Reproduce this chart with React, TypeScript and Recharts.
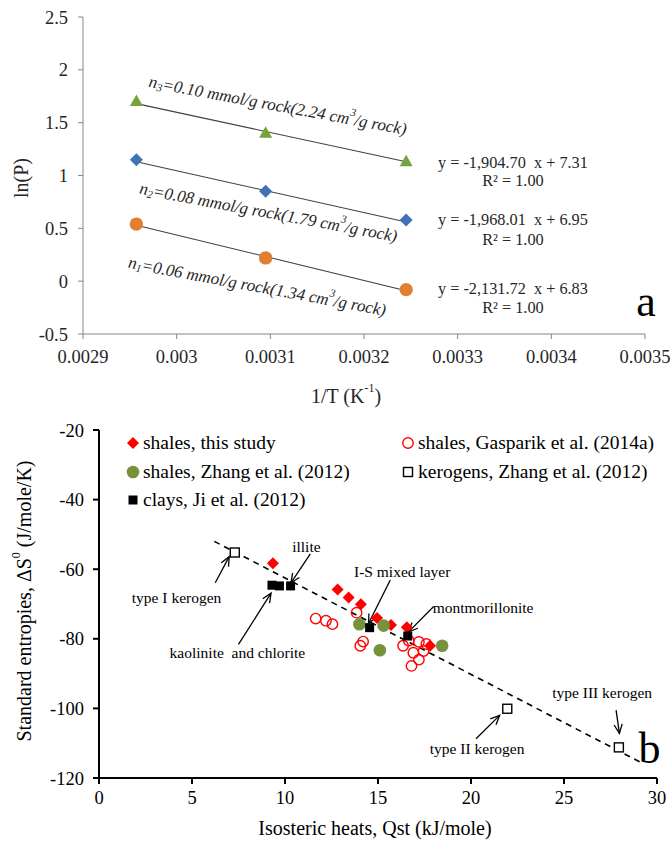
import React from "react";
import {
  ComposedChart,
  Scatter,
  Line,
  XAxis,
  YAxis,
  ReferenceDot,
  ReferenceLine,
  Legend,
} from "recharts";

const SERIF = '"Liberation Serif", "Times New Roman", serif';

// ---------- panel a: ln(P) vs 1/T ----------
const invT = [0.002957, 0.003095, 0.003245];
const lnPn3 = [1.7, 1.4, 1.13];
const lnPn2 = [1.15, 0.85, 0.58];
const lnPn1 = [0.54, 0.22, -0.08];

// fitted lines (end points)
const fitInvT = [0.002957, 0.003245];
const fitN3 = [1.68, 1.13];
const fitN2 = [1.13, 0.56];
const fitN1 = [0.53, -0.09];

const xTicksA = [0.0029, 0.003, 0.0031, 0.0032, 0.0033, 0.0034, 0.0035];
const xTickLabelsA = ["0.0029", "0.003", "0.0031", "0.0032", "0.0033", "0.0034", "0.0035"];
const yTicksA = [-0.5, 0, 0.5, 1, 1.5, 2, 2.5];
const yTickLabelsA = ["-0.5", "0", "0.5", "1", "1.5", "2", "2.5"];

const fitEquations = ["y = -1,904.70  x + 7.31", "y = -1,968.01  x + 6.95", "y = -2,131.72  x + 6.83"];
const fitR2 = ["R² = 1.00", "R² = 1.00", "R² = 1.00"];
const eqX = 0.003359;
const eqY = [1.127, 0.579, -0.074];
const r2Y = [0.957, 0.399, -0.245];

// loading labels along the lines: subscript, text, centre in data coords
const loadLabels = [
  { sub: "3", amount: "=0.10 mmol/g rock(2.24 cm", x: 0.003108, y: 1.666 },
  { sub: "2", amount: "=0.08 mmol/g rock(1.79 cm", x: 0.003098, y: 0.654 },
  { sub: "1", amount: "=0.06 mmol/g rock(1.34 cm", x: 0.003086, y: -0.046 },
];

// ---------- panel b: entropy vs isosteric heat ----------
const thisStudyQst = [9.35, 12.83, 13.42, 14.08, 14.95, 15.7, 16.55, 17.8];
const thisStudyS = [-58.3, -65.8, -68.1, -70.1, -74.0, -76.0, -76.7, -82.0];

const gasparikQst = [11.65, 12.2, 12.55, 13.85, 14.2, 14.05, 16.35, 16.65, 17.2, 17.6, 16.9, 17.2, 16.8, 17.45];
const gasparikS = [-74.2, -74.8, -75.8, -72.5, -80.8, -82.0, -82.0, -80.5, -80.9, -81.5, -84.0, -86.0, -87.8, -83.5];

const zhangShaleQst = [14.0, 15.3, 15.1, 18.45];
const zhangShaleS = [-75.8, -76.2, -83.3, -82.0];

const clayQst = [9.3, 9.7, 10.3, 14.55, 16.6];
const clayS = [-64.6, -64.8, -64.8, -76.8, -79.2];

const kerogenQst = [7.3, 21.95, 27.95];
const kerogenS = [-55.2, -100.1, -111.2];

const trendQst = [6.2, 29.2];
const trendS = [-52.0, -115.7];

const xTicksB = [0, 5, 10, 15, 20, 25, 30];
const yTicksB = [-120, -100, -80, -60, -40, -20];

const notes = [
  { text: "type I kerogen", x: 4.17, y: -68.0, from: [6.25, -63.9], to: [7.0, -56.4] },
  { text: "illite", x: 11.15, y: -53.6, from: [11.36, -55.6], to: [10.32, -63.9] },
  { text: "kaolinite  and chlorite", x: 7.44, y: -83.8, from: [7.5, -81.6], to: [9.25, -66.9] },
  { text: "I-S mixed layer", x: 16.3, y: -60.6, from: [15.66, -63.1], to: [14.49, -75.6] },
  { text: "montmorillonite", x: 20.65, y: -70.9, from: [17.98, -70.8], to: [16.64, -78.0] },
  { text: "type III kerogen", x: 27.05, y: -95.4, from: [27.8, -100.5], to: [27.98, -107.2] },
  { text: "type II kerogen", x: 20.33, y: -111.5, from: [20.27, -108.7], to: [21.54, -102.0] },
];

const legendItems = [
  { label: "shales, this study", marker: "redDiamond" },
  { label: "shales, Zhang et al. (2012)", marker: "greenDot" },
  { label: "clays, Ji et al. (2012)", marker: "blackSquare" },
  { label: "shales, Gasparik et al. (2014a)", marker: "redRing" },
  { label: "kerogens, Zhang et al. (2012)", marker: "openSquare" },
];

const pts = (xs: number[], ys: number[]) => xs.map((x, i) => ({ x, y: ys[i] }));

// ---------- marker shapes ----------
const triangle = (p: any) => {
  const { cx, cy } = p;
  return <polygon points={`${cx},${cy - 7} ${cx + 6.5},${cy + 4.5} ${cx - 6.5},${cy + 4.5}`} fill="#77a13c" />;
};
const diamondA = (p: any) => {
  const { cx, cy } = p;
  return <polygon points={`${cx},${cy - 6.5} ${cx + 6.5},${cy} ${cx},${cy + 6.5} ${cx - 6.5},${cy}`} fill="#3f72b5" />;
};
const dotA = (p: any) => <circle cx={p.cx} cy={p.cy} r={6.7} fill="#e07e33" />;

const redDiamond = (p: any) => {
  const { cx, cy } = p;
  return <polygon points={`${cx},${cy - 6} ${cx + 6},${cy} ${cx},${cy + 6} ${cx - 6},${cy}`} fill="#ff0000" />;
};
const redRing = (p: any) => <circle cx={p.cx} cy={p.cy} r={5.2} fill="none" stroke="#ff0000" strokeWidth={1.4} />;
const greenDot = (p: any) => <circle cx={p.cx} cy={p.cy} r={6.3} fill="#76923c" />;
const blackSquare = (p: any) => <rect x={p.cx - 4.5} y={p.cy - 4.5} width={9} height={9} fill="#000" />;
const openSquare = (p: any) => (
  <rect x={p.cx - 4.5} y={p.cy - 4.5} width={9} height={9} fill="#fff" stroke="#000" strokeWidth={1.4} />
);

const legendIcon = (kind: string) => {
  const p = { cx: 7, cy: 7 };
  if (kind === "redDiamond") return redDiamond(p);
  if (kind === "greenDot") return greenDot(p);
  if (kind === "blackSquare") return blackSquare(p);
  if (kind === "redRing") return redRing(p);
  return openSquare(p);
};

const arrowShape = (p: any) => {
  const { x1, y1, x2, y2 } = p;
  const a = Math.atan2(y2 - y1, x2 - x1);
  const L = 10;
  const w = 0.42;
  const h1 = `${x2 - L * Math.cos(a - w)},${y2 - L * Math.sin(a - w)}`;
  const h2 = `${x2 - L * Math.cos(a + w)},${y2 - L * Math.sin(a + w)}`;
  return (
    <g stroke="#000" strokeWidth={1.3} fill="none">
      <line x1={x1} y1={y1} x2={x2} y2={y2} />
      <polyline points={`${h1} ${x2},${y2} ${h2}`} />
    </g>
  );
};

const renderLegend = () => (
  <div style={{ position: "relative", width: 672, height: 100, fontFamily: SERIF, fontSize: 19.5, color: "#000" }}>
    {legendItems.map((it, i) => {
      const col = i < 3 ? 0 : 1;
      const row = i < 3 ? i : i - 3;
      return (
        <div
          key={it.label}
          style={{
            position: "absolute",
            left: col ? 401 : 126,
            top: 12 + row * 28.6,
            height: 22,
            display: "flex",
            alignItems: "center",
            whiteSpace: "nowrap",
          }}
        >
          <svg width={14} height={14}>{legendIcon(it.marker)}</svg>
          <span style={{ marginLeft: 3 }}>{it.label}</span>
        </div>
      );
    })}
  </div>
);

function PanelA() {
  const tickStyle = { fill: "#262626", fontSize: 18.5, fontFamily: SERIF };
  return (
    <ComposedChart width={672} height={420} margin={{ top: 17, right: 27, bottom: 0, left: 0 }}>
      <XAxis
        type="number"
        dataKey="x"
        domain={[0.0029, 0.0035]}
        ticks={xTicksA}
        allowDataOverflow
        height={86}
        stroke="#868686"
        tickSize={5}
        tickMargin={11}
        tick={tickStyle}
        tickFormatter={(v: number) => xTickLabelsA[xTicksA.indexOf(v)] ?? String(v)}
        label={{
          content: (lp: any) => (
            <text x={lp.viewBox.x + 263} y={lp.viewBox.y + 62} textAnchor="middle" dominantBaseline="central" fontFamily={SERIF} fontSize={20} fill="#262626">
              1/T (K<tspan dy={-8} fontSize={12}>-1</tspan><tspan dy={8}>)</tspan>
            </text>
          ),
        }}
      />
      <YAxis
        type="number"
        dataKey="y"
        domain={[-0.5, 2.5]}
        ticks={yTicksA}
        allowDataOverflow
        width={83}
        stroke="#868686"
        tickSize={5}
        tickMargin={10}
        tick={tickStyle}
        tickFormatter={(v: number) => yTickLabelsA[yTicksA.indexOf(v)] ?? String(v)}
        label={{
          content: () => (
            <text x={21} y={178} transform="rotate(-90 21 178)" textAnchor="middle" dominantBaseline="central" fontFamily={SERIF} fontSize={20} fill="#262626">
              ln(P)
            </text>
          ),
        }}
      />
      <Line data={pts(fitInvT, fitN3)} dataKey="y" stroke="#404040" strokeWidth={1.1} dot={false} isAnimationActive={false} />
      <Line data={pts(fitInvT, fitN2)} dataKey="y" stroke="#404040" strokeWidth={1.1} dot={false} isAnimationActive={false} />
      <Line data={pts(fitInvT, fitN1)} dataKey="y" stroke="#404040" strokeWidth={1.1} dot={false} isAnimationActive={false} />
      <Scatter data={pts(invT, lnPn3)} dataKey="y" shape={triangle} isAnimationActive={false} />
      <Scatter data={pts(invT, lnPn2)} dataKey="y" shape={diamondA} isAnimationActive={false} />
      <Scatter data={pts(invT, lnPn1)} dataKey="y" shape={dotA} isAnimationActive={false} />

      {loadLabels.map((l) => (
        <ReferenceDot
          key={l.sub}
          x={l.x}
          y={l.y}
          ifOverflow="visible"
          shape={(p: any) => (
            <text
              x={p.cx}
              y={p.cy}
              transform={`rotate(10.5 ${p.cx} ${p.cy})`}
              textAnchor="middle"
              dominantBaseline="central"
              fontFamily={SERIF}
              fontStyle="italic"
              fontSize={17}
              fill="#262626"
            >
              n<tspan dy={4} fontSize={11}>{l.sub}</tspan>
              <tspan dy={-4}>{l.amount}</tspan>
              <tspan dy={-7} fontSize={11}>3</tspan>
              <tspan dy={7}>/g rock)</tspan>
            </text>
          )}
        />
      ))}

      {fitEquations.map((eq, i) => (
        <ReferenceDot
          key={eq}
          x={eqX}
          y={eqY[i]}
          ifOverflow="visible"
          shape={(p: any) => (
            <text x={p.cx} y={p.cy} textAnchor="middle" dominantBaseline="central" fontFamily={SERIF} fontSize={16.3} fill="#262626" style={{ whiteSpace: "pre" }}>
              {eq}
            </text>
          )}
        />
      ))}
      {fitR2.map((r, i) => (
        <ReferenceDot
          key={"r" + i}
          x={eqX}
          y={r2Y[i]}
          ifOverflow="visible"
          shape={(p: any) => (
            <text x={p.cx} y={p.cy} textAnchor="middle" dominantBaseline="central" fontFamily={SERIF} fontSize={16.3} fill="#262626">
              {r}
            </text>
          )}
        />
      ))}
      <ReferenceDot
        x={0.003501}
        y={-0.19}
        ifOverflow="visible"
        shape={(p: any) => (
          <text x={p.cx} y={p.cy} textAnchor="middle" dominantBaseline="central" fontFamily={SERIF} fontSize={44} fill="#000">
            a
          </text>
        )}
      />
    </ComposedChart>
  );
}

function PanelB() {
  const tickStyle = { fill: "#000", fontSize: 18.5, fontFamily: SERIF };
  return (
    <ComposedChart width={672} height={426} margin={{ top: 10, right: 15, bottom: 0, left: 0 }}>
      <XAxis
        type="number"
        dataKey="x"
        domain={[0, 30]}
        ticks={xTicksB}
        allowDataOverflow
        height={68}
        stroke="#000"
        strokeWidth={2}
        tickSize={6}
        tickMargin={7}
        tick={tickStyle}
        label={{
          content: () => (
            <text x={375} y={408} textAnchor="middle" dominantBaseline="central" fontFamily={SERIF} fontSize={20} fill="#000">
              Isosteric heats, Qst (kJ/mole)
            </text>
          ),
        }}
      />
      <YAxis
        type="number"
        dataKey="y"
        domain={[-120, -20]}
        ticks={yTicksB}
        allowDataOverflow
        width={99}
        stroke="#000"
        strokeWidth={2}
        tickSize={6}
        tickMargin={9}
        tick={tickStyle}
        label={{
          content: () => (
            <text x={24} y={181} transform="rotate(-90 24 181)" textAnchor="middle" dominantBaseline="central" fontFamily={SERIF} fontSize={20} fill="#000">
              Standard entropies, ΔS<tspan dy={-8} fontSize={12}>0</tspan>
              <tspan dy={8}> (J/mole/K)</tspan>
            </text>
          ),
        }}
      />
      <Legend layout="vertical" align="center" verticalAlign="middle" wrapperStyle={{ left: 0, top: 0, width: 672 }} content={renderLegend} />
      <Line data={pts(trendQst, trendS)} dataKey="y" stroke="#000" strokeWidth={1.6} strokeDasharray="6 5" dot={false} isAnimationActive={false} />
      <Scatter data={pts(thisStudyQst, thisStudyS)} dataKey="y" shape={redDiamond} isAnimationActive={false} />
      <Scatter data={pts(gasparikQst, gasparikS)} dataKey="y" shape={redRing} isAnimationActive={false} />
      <Scatter data={pts(zhangShaleQst, zhangShaleS)} dataKey="y" shape={greenDot} isAnimationActive={false} />
      <Scatter data={pts(clayQst, clayS)} dataKey="y" shape={blackSquare} isAnimationActive={false} />
      <Scatter data={pts(kerogenQst, kerogenS)} dataKey="y" shape={openSquare} isAnimationActive={false} />

      {notes.map((n) => (
        <ReferenceLine
          key={"arr" + n.text}
          segment={[{ x: n.from[0], y: n.from[1] }, { x: n.to[0], y: n.to[1] }]}
          ifOverflow="visible"
          shape={arrowShape}
        />
      ))}
      {notes.map((n) => (
        <ReferenceDot
          key={"txt" + n.text}
          x={n.x}
          y={n.y}
          ifOverflow="visible"
          shape={(p: any) => (
            <text x={p.cx} y={p.cy} textAnchor="middle" dominantBaseline="central" fontFamily={SERIF} fontSize={15.5} fill="#000" style={{ whiteSpace: "pre" }}>
              {n.text}
            </text>
          )}
        />
      ))}
      <ReferenceDot
        x={29.6}
        y={-111.5}
        ifOverflow="visible"
        shape={(p: any) => (
          <text x={p.cx} y={p.cy} textAnchor="middle" dominantBaseline="central" fontFamily={SERIF} fontSize={44} fill="#000">
            b
          </text>
        )}
      />
    </ComposedChart>
  );
}

export default function App() {
  return (
    <div style={{ position: "absolute", left: 0, top: 0, width: 672, height: 846, background: "#fff" }}>
      <div style={{ position: "absolute", left: 0, top: 0 }}>
        <PanelA />
      </div>
      <div style={{ position: "absolute", left: 0, top: 420 }}>
        <PanelB />
      </div>
    </div>
  );
}
